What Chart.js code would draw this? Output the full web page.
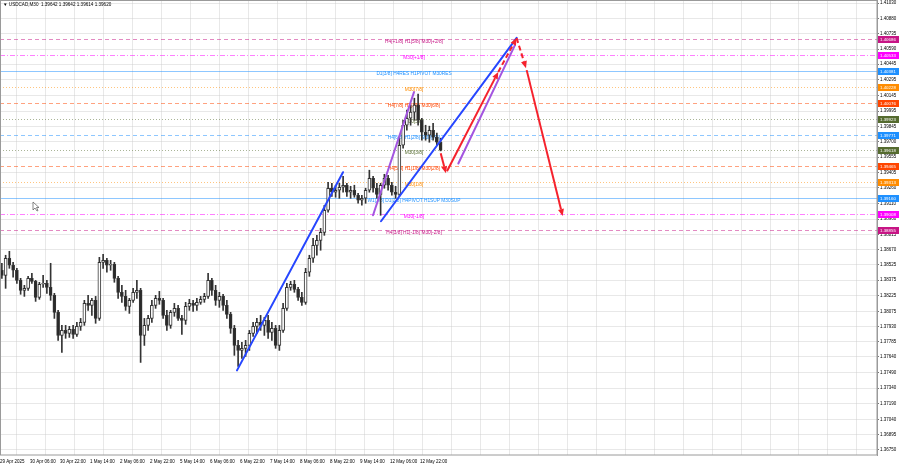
<!DOCTYPE html>
<html>
<head>
<meta charset="utf-8">
<script src="https://cdn.jsdelivr.net/npm/chart.js@4.4.1/dist/chart.umd.min.js"></script>
<style>
  html, body { margin: 0; padding: 0; background: #fff; }
  #wrap { width: 900px; height: 468px; }
</style>
</head>
<body>
<div id="wrap"><canvas id="grafico" width="900" height="468"></canvas></div>
<script>
/* ================= DADOS ================= */

// USDCAD M30, agrupado em velas de 2 horas (4 barras M30)
const aberturas = [
  1.38470,1.38422,1.38585,1.38518,1.38470,1.38374,1.38278,1.38297,1.38393,1.38364,
  1.38211,1.38336,1.38345,1.38307,1.38230,1.38067,1.37846,1.37894,1.37866,1.37904,
  1.37856,1.37933,1.37971,1.38153,1.38134,1.38182,1.38009,1.38546,1.38565,1.38518,
  1.38527,1.38393,1.38259,1.38220,1.38124,1.38182,1.38259,1.38278,1.37846,1.37942,
  1.38009,1.38134,1.38201,1.38182,1.38038,1.37942,1.38067,1.38105,1.38009,1.37990,
  1.38124,1.38153,1.38134,1.38163,1.38192,1.38220,1.38374,1.38278,1.38182,1.38220,
  1.38134,1.38048,1.37914,1.37750,1.37702,1.37722,1.37750,1.37866,1.37933,1.37971,
  1.37942,1.37990,1.37875,1.37914,1.37750,1.37894,1.38105,1.38307,1.38336,1.38287,
  1.38211,1.38163,1.38451,1.38585,1.38709,1.38757,1.38834,1.39045,1.39256,1.39218,
  1.39237,1.39266,1.39285,1.39218,1.39237,1.39189,1.39141,1.39160,1.39237,1.39352,
  1.39256,1.39198,1.39285,1.39352,1.39285,1.39218,1.39198,1.39668,1.39860,1.39927,
  1.39985,1.40052,1.39908,1.39793,1.39764,1.39812,1.39745,1.39697
];
const maximas = [
  1.38537,1.38614,1.38652,1.38546,1.38489,1.38393,1.38326,1.38412,1.38441,1.38374,
  1.38355,1.38422,1.38374,1.38537,1.38249,1.38086,1.37942,1.37942,1.37933,1.37942,
  1.37971,1.38009,1.38182,1.38230,1.38201,1.38220,1.38594,1.38623,1.38585,1.38565,
  1.38546,1.38412,1.38326,1.38278,1.38201,1.38297,1.38374,1.38297,1.38009,1.38038,
  1.38182,1.38230,1.38268,1.38201,1.38086,1.38086,1.38153,1.38134,1.38038,1.38163,
  1.38192,1.38182,1.38201,1.38220,1.38249,1.38441,1.38393,1.38326,1.38259,1.38240,
  1.38182,1.38067,1.37942,1.37799,1.37779,1.37799,1.37894,1.37971,1.38009,1.38038,
  1.38019,1.38038,1.37971,1.37942,1.37942,1.38153,1.38345,1.38364,1.38374,1.38307,
  1.38259,1.38489,1.38614,1.38777,1.38805,1.38872,1.39093,1.39314,1.39304,1.39285,
  1.39304,1.39371,1.39304,1.39275,1.39285,1.39208,1.39189,1.39256,1.39429,1.39371,
  1.39304,1.39304,1.39390,1.39381,1.39314,1.39275,1.39745,1.39908,1.40004,1.40052,
  1.40119,1.40158,1.39927,1.39860,1.39851,1.39879,1.39784,1.39736
];
const minimas = [
  1.38393,1.38297,1.38489,1.38403,1.38345,1.38240,1.38220,1.38278,1.38345,1.38172,
  1.38192,1.38307,1.38249,1.38182,1.38009,1.37799,1.37683,1.37818,1.37827,1.37818,
  1.37837,1.37894,1.37942,1.38086,1.38038,1.37962,1.37990,1.38489,1.38451,1.38470,
  1.38355,1.38201,1.38163,1.38086,1.38057,1.38163,1.38201,1.37587,1.37750,1.37894,
  1.37971,1.38105,1.38144,1.38009,1.37894,1.37914,1.38029,1.37990,1.37856,1.37952,
  1.38086,1.38077,1.38086,1.38144,1.38163,1.38201,1.38230,1.38134,1.38115,1.38086,
  1.38009,1.37866,1.37655,1.37549,1.37626,1.37645,1.37702,1.37837,1.37866,1.37894,
  1.37846,1.37818,1.37799,1.37722,1.37702,1.37875,1.38086,1.38278,1.38259,1.38182,
  1.38134,1.38144,1.38412,1.38546,1.38614,1.38662,1.38805,1.39026,1.39179,1.39170,
  1.39160,1.39218,1.39179,1.39160,1.39170,1.39112,1.39093,1.39112,1.39218,1.39218,
  1.39160,1.38997,1.39256,1.39237,1.39189,1.39160,1.39179,1.39640,1.39812,1.39860,
  1.39908,1.39860,1.39716,1.39716,1.39697,1.39716,1.39668,1.39614
];
const fechamentos = [
  1.38422,1.38585,1.38518,1.38470,1.38374,1.38278,1.38297,1.38393,1.38364,1.38211,
  1.38336,1.38345,1.38307,1.38230,1.38067,1.37846,1.37894,1.37866,1.37904,1.37856,
  1.37933,1.37971,1.38153,1.38134,1.38182,1.38009,1.38546,1.38565,1.38518,1.38527,
  1.38393,1.38259,1.38220,1.38124,1.38182,1.38259,1.38278,1.37846,1.37942,1.38009,
  1.38134,1.38201,1.38182,1.38038,1.37942,1.38067,1.38105,1.38009,1.37990,1.38124,
  1.38153,1.38134,1.38163,1.38192,1.38220,1.38374,1.38278,1.38182,1.38220,1.38134,
  1.38048,1.37914,1.37750,1.37702,1.37722,1.37750,1.37866,1.37933,1.37971,1.37942,
  1.37990,1.37875,1.37914,1.37750,1.37894,1.38105,1.38307,1.38336,1.38287,1.38211,
  1.38163,1.38451,1.38585,1.38709,1.38757,1.38834,1.39045,1.39256,1.39218,1.39237,
  1.39266,1.39285,1.39218,1.39237,1.39189,1.39141,1.39160,1.39237,1.39352,1.39256,
  1.39198,1.39285,1.39352,1.39285,1.39218,1.39198,1.39668,1.39860,1.39927,1.39985,
  1.40052,1.39908,1.39793,1.39764,1.39812,1.39745,1.39697,1.39620
];

const rotulosTempo = [
  "29 Apr 2025", "30 Apr 06:00", "30 Apr 22:00", "1 May 14:00", "2 May 06:00",
  "2 May 22:00", "5 May 14:00", "6 May 06:00", "6 May 22:00", "7 May 14:00",
  "8 May 06:00", "8 May 22:00", "9 May 14:00", "12 May 06:00", "12 May 22:00"
];

const ticksPreco = [
  1.41030, 1.40880, 1.40735, 1.40590, 1.40445, 1.40295, 1.40145, 1.39995, 1.39845, 1.39700,
  1.39555, 1.39405, 1.39260, 1.39110, 1.38960, 1.38815, 1.38670, 1.38525, 1.38375, 1.38225,
  1.38075, 1.37930, 1.37785, 1.37640, 1.37490, 1.37340, 1.37190, 1.37040, 1.36895, 1.36750
];

// níveis de Murrey
const niveisPreco = [1.40686, 1.40533, 1.40381, 1.40228, 1.40076, 1.39923, 1.39771,
                     1.39618, 1.39465, 1.39313, 1.39160, 1.39008, 1.38855];
const niveisTexto = [
  "H4[+1/8] H1[5/8] M30[+2/8]", "M30[+1/8]", "D1[3/8] H4RES H1PIVOT M30RES", "M30[7/8]",
  "H4[7/8] H1[3/8] M30[6/8]", "M30[5/8]", "H4[6/8] H1[2/8] M30[4/8]", "M30[3/8]",
  "H4[5/8] H1[1/8] M30[2/8]", "M30[1/8]", "W1[1/8] D1[2/8] H4PIVOT H1SUP M30SUP",
  "M30[-1/8]", "H4[3/8] H1[-1/8] M30[-2/8]"
];
const niveisCor = ["#c71585", "#ff00ff", "#1e90ff", "#ff8c00", "#ff4500", "#556b2f", "#1e90ff",
                   "#556b2f", "#ff4500", "#ff8c00", "#1e90ff", "#ff00ff", "#c71585"];
const niveisEstilo = ["dash", "dashdot", "solid", "dot", "dash", "dot", "dash",
                      "dot", "dash", "dot", "solid", "dashdot", "dash"];
const barraTextoNiveis = 441.6;

// linhas desenhadas: [barra inicial, preço inicial, barra final, preço final]
const linhasAzuis = [[252.8, 1.37511, 365.9, 1.39410], [406.4, 1.38940, 551.1, 1.40697]];
const linhasRoxas = [[397.9, 1.38997, 441.6, 1.40177], [488.9, 1.39493, 549.3, 1.40627]];
const setasVermelhas = [[470.1, 1.39592, 475.7, 1.39400], [476.8, 1.39419, 531.5, 1.40371],
                        [561.8, 1.40388, 600.2, 1.38990]];
const setasTracejadas = [[531.5, 1.40371, 551.1, 1.40695], [551.1, 1.40695, 561.1, 1.40407]];

/* ================= UTIL ================= */

const BARRAS_POR_VELA = 4;
const BARRA_MAX = 935.5;
const corGrade = "rgba(205,205,205,0.45)";
const fonte = "'Liberation Sans', Arial, sans-serif";

function estiloDash(nome) {
  if (nome === "dash") return [4, 3];
  if (nome === "dot") return [1, 2];
  if (nome === "dashdot") return [5, 2, 1, 2];
  return [];
}

function seta(ctx, x1, y1, x2, y2, cor, tracejada) {
  const ang = Math.atan2(y2 - y1, x2 - x1);
  const comp = 7, larg = 3;
  const bx = x2 - comp * Math.cos(ang), by = y2 - comp * Math.sin(ang);
  ctx.save();
  ctx.strokeStyle = cor;
  ctx.fillStyle = cor;
  ctx.lineWidth = 2;
  ctx.setLineDash(tracejada ? [5, 3] : []);
  ctx.beginPath();
  ctx.moveTo(x1, y1);
  ctx.lineTo(bx, by);
  ctx.stroke();
  ctx.setLineDash([]);
  ctx.beginPath();
  ctx.moveTo(x2, y2);
  ctx.lineTo(bx + larg * Math.sin(ang), by - larg * Math.cos(ang));
  ctx.lineTo(bx - larg * Math.sin(ang), by + larg * Math.cos(ang));
  ctx.closePath();
  ctx.fill();
  ctx.restore();
}

function semPadding(s) {
  s.paddingTop = 0;
  s.paddingBottom = 0;
  s.paddingLeft = 0;
  s.paddingRight = 0;
}

/* ================= PLUGINS ================= */

const pluginNiveis = {
  id: "niveis",
  beforeDatasetsDraw(chart) {
    const { ctx, chartArea, scales } = chart;
    ctx.save();
    niveisPreco.forEach((p, i) => {
      const y = Math.round(scales.y.getPixelForValue(p)) + 0.5;
      ctx.globalAlpha = 0.5;
      ctx.strokeStyle = niveisCor[i];
      ctx.lineWidth = 1;
      ctx.setLineDash(estiloDash(niveisEstilo[i]));
      ctx.beginPath();
      ctx.moveTo(chartArea.left, y);
      ctx.lineTo(chartArea.right, y);
      ctx.stroke();
      ctx.globalAlpha = 1;
      ctx.setLineDash([]);
      ctx.fillStyle = niveisCor[i];
      ctx.font = "4.8px " + fonte;
      ctx.textAlign = "center";
      ctx.textBaseline = "top";
      ctx.fillText(niveisTexto[i], scales.x.getPixelForValue(barraTextoNiveis), y);
    });
    ctx.restore();
  },
  afterDatasetsDraw(chart) {
    const { ctx, scales } = chart;
    const px = (b, p) => [scales.x.getPixelForValue(b), scales.y.getPixelForValue(p)];
    ctx.save();
    ctx.lineCap = "round";
    [[linhasAzuis, "#2646ff"], [linhasRoxas, "#a355e0"]].forEach(([lista, cor]) => {
      ctx.strokeStyle = cor;
      ctx.lineWidth = 2;
      lista.forEach(l => {
        const a = px(l[0], l[1]), b = px(l[2], l[3]);
        ctx.beginPath();
        ctx.moveTo(a[0], a[1]);
        ctx.lineTo(b[0], b[1]);
        ctx.stroke();
      });
    });
    ctx.restore();
    setasVermelhas.forEach(l => {
      const a = px(l[0], l[1]), b = px(l[2], l[3]);
      seta(ctx, a[0], a[1], b[0], b[1], "#f5222d", false);
    });
    setasTracejadas.forEach(l => {
      const a = px(l[0], l[1]), b = px(l[2], l[3]);
      seta(ctx, a[0], a[1], b[0], b[1], "#f5222d", true);
    });
  },
  afterDraw(chart) {
    const { ctx, chartArea, scales } = chart;
    ctx.save();
    // moldura
    ctx.strokeStyle = "#9a9a9a";
    ctx.lineWidth = 1;
    ctx.strokeRect(0.5, 0.5, chartArea.right - 0.5, chartArea.bottom - 0.5);
    // etiquetas de preço dos níveis
    ctx.font = "4.4px " + fonte;
    ctx.textBaseline = "middle";
    ctx.textAlign = "left";
    niveisPreco.forEach((p, i) => {
      const y = Math.round(scales.y.getPixelForValue(p));
      ctx.fillStyle = niveisCor[i];
      ctx.fillRect(chartArea.right + 1, y - 3, 21, 7);
      ctx.fillStyle = "#ffffff";
      ctx.fillText(p.toFixed(5), chartArea.right + 3, y + 0.5);
    });
    // título
    ctx.fillStyle = "#000";
    ctx.font = "4.6px " + fonte;
    ctx.fillText("\u25BC USDCAD,M30  1.39642 1.39642 1.39614 1.39620", 3, 5);
    // cursor do mouse
    ctx.translate(33, 202);
    ctx.beginPath();
    ctx.moveTo(0, 0); ctx.lineTo(0, 8); ctx.lineTo(2, 6); ctx.lineTo(4, 9);
    ctx.lineTo(5, 8.5); ctx.lineTo(3.5, 5.5); ctx.lineTo(6, 5.5); ctx.closePath();
    ctx.fillStyle = "#fff"; ctx.fill();
    ctx.strokeStyle = "#555"; ctx.lineWidth = 0.7; ctx.stroke();
    ctx.restore();
  }
};

/* ================= GRÁFICO ================= */

const posicao = i => i * BARRAS_POR_VELA + 2;
const alta = i => fechamentos[i] >= aberturas[i];

const pavios = aberturas.map((_, i) => ({ x: posicao(i), y: [minimas[i], maximas[i]] }));
const corpos = aberturas.map((_, i) => ({ x: posicao(i), y: [aberturas[i], fechamentos[i]] }));

const colunasGrade = [];
for (let k = 0; k < 29; k++) colunasGrade.push(32 * k + 18);

new Chart(document.getElementById("grafico"), {
  type: "bar",
  data: {
    datasets: [
      {
        data: pavios,
        backgroundColor: "#333",
        barThickness: 1,
        grouped: false,
        order: 2
      },
      {
        data: corpos,
        backgroundColor: corpos.map((_, i) => alta(i) ? "#ffffff" : "#2a2a2a"),
        borderColor: "#333",
        borderWidth: 1,
        borderSkipped: false,
        barThickness: 3,
        grouped: false,
        order: 1
      }
    ]
  },
  options: {
    responsive: false,
    animation: false,
    devicePixelRatio: 1,
    layout: { padding: 0 },
    plugins: { legend: { display: false }, tooltip: { enabled: false } },
    scales: {
      x: {
        type: "linear",
        min: 0,
        max: BARRA_MAX,
        offset: false,
        position: "bottom",
        grid: { display: false, drawTicks: false },
        border: { display: false },
        afterBuildTicks: s => { s.ticks = rotulosTempo.map((_, k) => ({ value: 32 * k })); },
        afterFit: s => { s.height = 13; semPadding(s); },
        ticks: {
          autoSkip: false,
          maxRotation: 0,
          align: "start",
          padding: 4,
          color: "#000",
          font: { size: 4.5, family: fonte },
          callback: v => rotulosTempo[Math.round(v / 32)]
        }
      },
      xg: {
        type: "linear",
        min: 0,
        max: BARRA_MAX,
        position: "bottom",
        grid: { color: corGrade, drawTicks: false },
        border: { display: false },
        ticks: { display: false },
        afterBuildTicks: s => { s.ticks = colunasGrade.map(v => ({ value: v })); },
        afterFit: s => { s.height = 0; semPadding(s); }
      },
      y: {
        type: "linear",
        position: "right",
        min: 1.3670,
        max: 1.4106,
        grid: { color: corGrade, tickLength: 2, tickColor: "#777" },
        border: { color: "#9a9a9a" },
        afterBuildTicks: s => { s.ticks = ticksPreco.map(v => ({ value: v })); },
        afterFit: s => { s.width = 23; semPadding(s); },
        ticks: {
          padding: 1,
          color: "#000",
          font: { size: 4.5, family: fonte },
          callback: v => v.toFixed(5)
        }
      }
    }
  },
  plugins: [pluginNiveis]
});
</script>
</body>
</html>
